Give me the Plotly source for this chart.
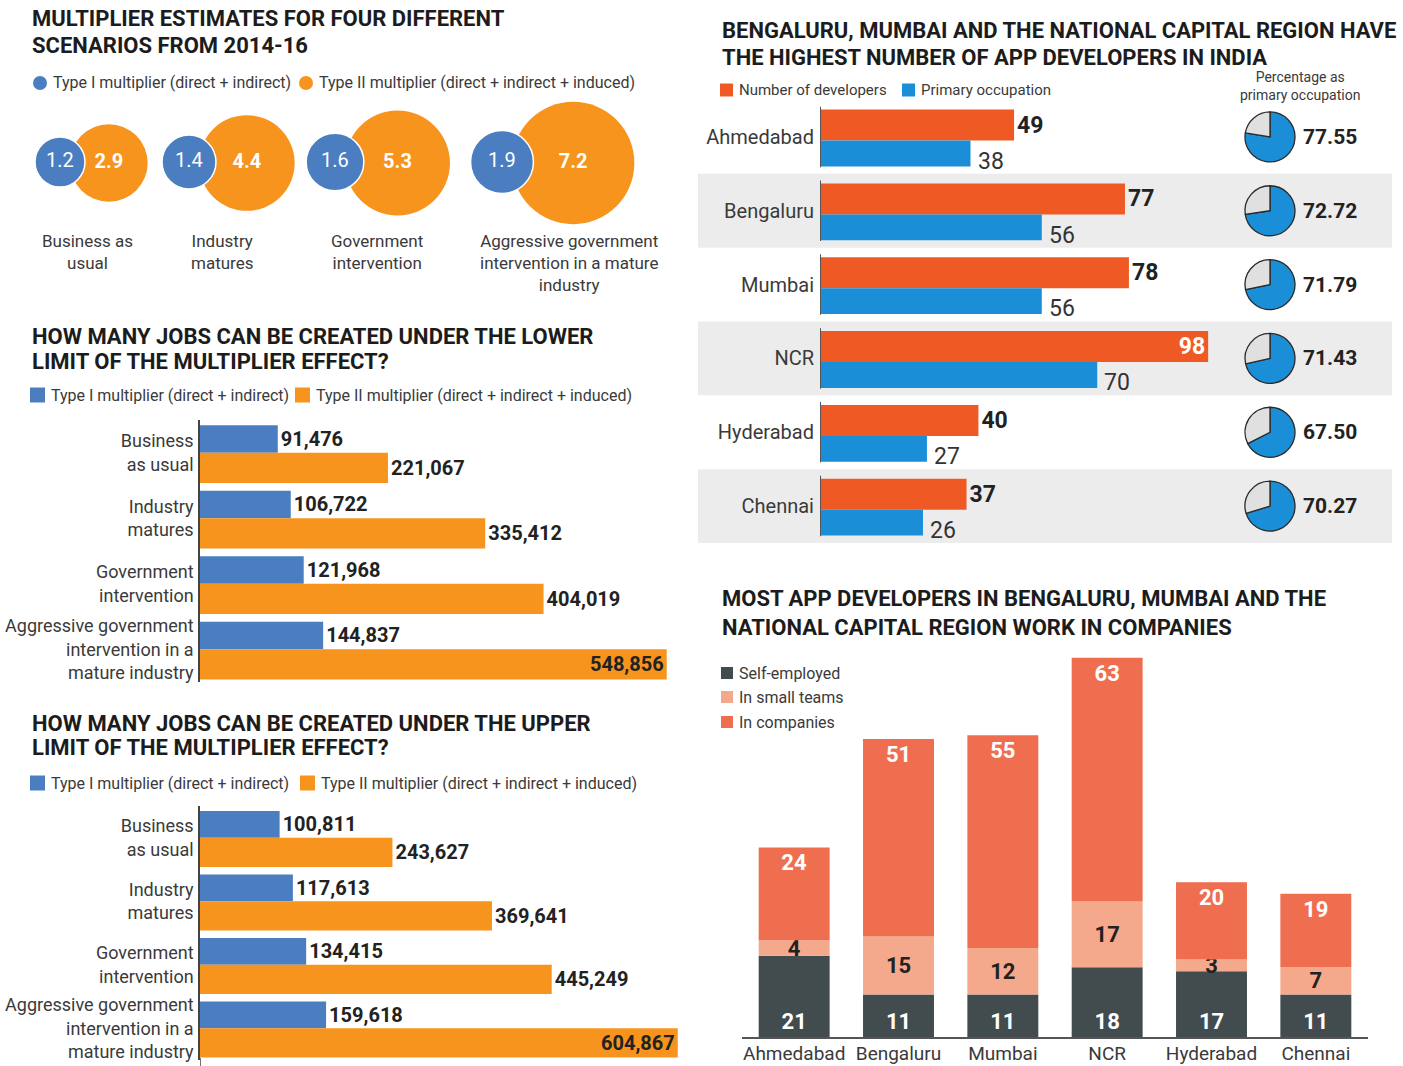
import math
import plotly.graph_objects as go

# ---------------------------------------------------------------- data
scenario_ticks = ["Business<br>as usual", "Industry<br>matures", "Government<br>intervention",
                  "Aggressive government<br>intervention in a<br>mature industry"]
bubble_names = ["Business as<br>usual", "Industry<br>matures", "Government<br>intervention",
                "Aggressive government<br>intervention in a mature<br>industry"]
type1_multiplier = [1.2, 1.4, 1.6, 1.9]
type2_multiplier = [2.9, 4.4, 5.3, 7.2]

jobs_lower_type1 = [91476, 106722, 121968, 144837]
jobs_lower_type2 = [221067, 335412, 404019, 548856]
jobs_upper_type1 = [100811, 117613, 134415, 159618]
jobs_upper_type2 = [243627, 369641, 445249, 604867]

cities = ["Ahmedabad", "Bengaluru", "Mumbai", "NCR", "Hyderabad", "Chennai"]
developers = [49, 77, 78, 98, 40, 37]
primary_occupation = [38, 56, 56, 70, 27, 26]
pct_primary = [77.55, 72.72, 71.79, 71.43, 67.50, 70.27]

self_employed = [21, 11, 11, 18, 17, 11]
small_teams = [4, 15, 12, 17, 3, 7]
in_companies = [24, 51, 55, 63, 20, 19]

# ---------------------------------------------------------------- styling
W, H = 1403, 1066
FONT = "Roboto, Liberation Sans, Arial, sans-serif"
TITLE_C = "#1c1c1c"
TEXT_C = "#3a3a3a"
VAL_C = "#222222"

M_BLUE, M_ORANGE = "#4a7ec1", "#f7941e"          # multiplier charts
D_ORANGE, D_BLUE = "#ef5a24", "#1a8fd8"          # developer counts
PIE_GREY, BAND = "#e0e0e0", "#ececec"
SELF_C, SMALL_C, COMP_C = "#424c4e", "#f5a98c", "#ef6e50"


def px(x):
    return x / W


def py(y):
    return 1 - y / H


fig = go.Figure()
ann = []
shapes = []


def title(lines, x, ys, size=22):
    for t, y in zip(lines, ys):
        ann.append(dict(text=f"<b>{t}</b>", x=px(x), y=py(y), xref="paper", yref="paper",
                        xanchor="left", yanchor="middle", showarrow=False,
                        font=dict(size=size, color=TITLE_C)))


def legend_item(x, y, color, label, size=16, shape="rect", box=14):
    shapes.append(dict(type=shape, xref="paper", yref="paper",
                       x0=px(x), x1=px(x + box), y0=py(y + box / 2), y1=py(y - box / 2),
                       fillcolor=color, line=dict(width=0)))
    ann.append(dict(text=label, x=px(x + box + 4), y=py(y), xref="paper", yref="paper",
                    xanchor="left", yanchor="middle", showarrow=False,
                    font=dict(size=size, color=TEXT_C)))


# ---------------------------------------------------------------- bubbles
BLUE_CX = [60, 189, 335, 502]     # blue bubble centres in the pixel-scaled axis
NAME_CX = [87, 222, 377, 569]
R_UNIT = 22.8                     # bubble radius per sqrt(multiplier)
sizeref = 1 / (2 * R_UNIT ** 2)
orange_cx = [bx + 10 + R_UNIT * math.sqrt(v) for bx, v in zip(BLUE_CX, type2_multiplier)]

fig.add_trace(go.Scatter(
    x=orange_cx, y=[163] * 4, mode="markers+text", xaxis="x", yaxis="y",
    marker=dict(size=type2_multiplier, sizemode="area", sizeref=sizeref, color=M_ORANGE,
                line=dict(width=0), opacity=1),
    text=[f"<b>{v:.1f}</b>" for v in type2_multiplier], textposition="middle center",
    textfont=dict(size=20, color="white"), hoverinfo="skip", cliponaxis=False))
fig.add_trace(go.Scatter(
    x=BLUE_CX, y=[162] * 4, mode="markers+text", xaxis="x", yaxis="y",
    marker=dict(size=type1_multiplier, sizemode="area", sizeref=sizeref, color=M_BLUE,
                line=dict(width=1.5, color="white"), opacity=1),
    text=[f"{v:.1f}" for v in type1_multiplier], textposition="middle center",
    textfont=dict(size=20, color="white"), hoverinfo="skip", cliponaxis=False))

for cx, name in zip(NAME_CX, bubble_names):
    ann.append(dict(text=name, x=cx, xref="x", y=py(229), yref="paper", xanchor="center",
                    yanchor="top", showarrow=False, font=dict(size=17, color=TEXT_C)))

title(["MULTIPLIER ESTIMATES FOR FOUR DIFFERENT", "SCENARIOS FROM 2014-16"], 30, [19, 46])
legend_item(33, 83, M_BLUE, "Type I multiplier (direct + indirect)", shape="circle")
legend_item(299, 83, M_ORANGE, "Type II multiplier (direct + indirect + induced)", shape="circle")


# ---------------------------------------------------------------- job bars
def job_bars(t1, t2, xa, ya):
    n = len(t1)
    fig.add_trace(go.Bar(
        y=list(range(n)), x=t1, orientation="h", xaxis=xa, yaxis=ya,
        offset=-0.42, width=0.42, marker=dict(color=M_BLUE, line=dict(width=0)),
        texttemplate="<b>%{x:,}</b>", textposition="outside", textangle=0,
        textfont=dict(size=20, color=VAL_C), cliponaxis=False, hoverinfo="skip"))
    fig.add_trace(go.Bar(
        y=list(range(n)), x=t2, orientation="h", xaxis=xa, yaxis=ya,
        offset=0, width=0.46, marker=dict(color=M_ORANGE, line=dict(width=0)),
        texttemplate="<b>%{x:,}</b>",
        textposition=["outside"] * (n - 1) + ["inside"], insidetextanchor="end",
        constraintext="none", textangle=0,
        textfont=dict(size=20, color=VAL_C), cliponaxis=False, hoverinfo="skip"))


job_bars(jobs_lower_type1, jobs_lower_type2, "x2", "y2")
job_bars(jobs_upper_type1, jobs_upper_type2, "x3", "y3")
# the upper chart's axis runs on to the foot of the page
shapes.append(dict(type="line", xref="x3", yref="paper", x0=0, x1=0, y0=0, y1=py(1058),
                   line=dict(color="#444444", width=1.5)))

title(["HOW MANY JOBS CAN BE CREATED UNDER THE LOWER", "LIMIT OF THE MULTIPLIER EFFECT?"], 30, [337, 361])
legend_item(30, 395, M_BLUE, "Type I multiplier (direct + indirect)", box=15)
legend_item(295, 395, M_ORANGE, "Type II multiplier (direct + indirect + induced)", box=15)

title(["HOW MANY JOBS CAN BE CREATED UNDER THE UPPER", "LIMIT OF THE MULTIPLIER EFFECT?"], 30, [723, 747])
legend_item(30, 783, M_BLUE, "Type I multiplier (direct + indirect)", box=15)
legend_item(300, 783, M_ORANGE, "Type II multiplier (direct + indirect + induced)", box=15)

# ---------------------------------------------------------------- developers by city
ROW_TOP, ROW_BOT = 100, 543
row_h = (ROW_BOT - ROW_TOP) / len(cities)

fig.add_trace(go.Bar(
    y=list(range(len(cities))), x=developers, orientation="h", xaxis="x4", yaxis="y4",
    offset=-0.37, width=0.42, marker=dict(color=D_ORANGE, line=dict(width=0)),
    texttemplate="<b>%{x}</b>",
    textposition=["inside" if v == max(developers) else "outside" for v in developers],
    insidetextanchor="end", constraintext="none", textangle=0,
    textfont=dict(size=23), insidetextfont=dict(size=23, color="white"),
    outsidetextfont=dict(size=23, color=VAL_C), cliponaxis=False, hoverinfo="skip"))
fig.add_trace(go.Bar(
    y=list(range(len(cities))), x=primary_occupation, orientation="h", xaxis="x4", yaxis="y4",
    offset=0.05, width=0.35, marker=dict(color=D_BLUE, line=dict(width=0)),
    hoverinfo="skip"))

for i, v in enumerate(primary_occupation):
    ann.append(dict(text=str(v), x=v, xref="x4", y=i + 0.33, yref="y4", xanchor="left",
                    yanchor="middle", xshift=5, showarrow=False,
                    font=dict(size=23, color="#333333")))
    # short axis stub per row
    shapes.append(dict(type="line", xref="x4", yref="y4", x0=0, x1=0, y0=i - 0.41, y1=i + 0.41,
                       line=dict(color="#555555", width=2), layer="above"))
    if i % 2 == 1:
        shapes.append(dict(type="rect", xref="paper", yref="y4", x0=px(698), x1=px(1392),
                           y0=i - 0.5, y1=i + 0.5, fillcolor=BAND, line=dict(width=0),
                           layer="below"))

for i, p in enumerate(pct_primary):
    cy = ROW_TOP + row_h * (i + 0.5)
    fig.add_trace(go.Pie(
        values=[p, 100 - p], sort=False, direction="clockwise", rotation=0,
        domain=dict(x=[px(1245), px(1295)], y=[py(cy + 25), py(cy - 25)]),
        marker=dict(colors=[D_BLUE, PIE_GREY], line=dict(color="#2a2a2a", width=1.3)),
        textinfo="none", hoverinfo="skip", showlegend=False))
    ann.append(dict(text=f"<b>{p:.2f}</b>", x=px(1301), xref="paper", y=i, yref="y4",
                    xanchor="left", yanchor="middle", showarrow=False,
                    font=dict(size=21, color=VAL_C)))

title(["BENGALURU, MUMBAI AND THE NATIONAL CAPITAL REGION HAVE",
       "THE HIGHEST NUMBER OF APP DEVELOPERS IN INDIA"], 720, [30, 58])
legend_item(720, 90, D_ORANGE, "Number of developers", size=15, box=13)
legend_item(902, 90, D_BLUE, "Primary occupation", size=15, box=13)
ann.append(dict(text="Percentage as<br>primary occupation", x=px(1300), y=py(86), xref="paper",
                yref="paper", xanchor="center", yanchor="middle", showarrow=False,
                font=dict(size=14, color=TEXT_C)))

# ---------------------------------------------------------------- work type (stacked)
base_small = list(self_employed)
base_comp = [a + b for a, b in zip(self_employed, small_teams)]
for vals, base, color, tcol, anchor in [
        (self_employed, None, SELF_C, "white", "start"),
        (small_teams, base_small, SMALL_C, VAL_C, "middle"),
        (in_companies, base_comp, COMP_C, "white", "end")]:
    fig.add_trace(go.Bar(
        x=cities, y=vals, base=base, xaxis="x5", yaxis="y5",
        offset=-0.34, width=0.68, marker=dict(color=color, line=dict(width=0)),
        text=vals, texttemplate="<b>%{text}</b>", textposition="inside",
        insidetextanchor=anchor, constraintext="none", textangle=0,
        textfont=dict(size=22, color=tcol), cliponaxis=False, hoverinfo="skip"))

title(["MOST APP DEVELOPERS IN BENGALURU, MUMBAI AND THE",
       "NATIONAL CAPITAL REGION WORK IN COMPANIES"], 720, [598, 627])
legend_item(721, 673, SELF_C, "Self-employed", box=12)
legend_item(721, 697, SMALL_C, "In small teams", box=12)
legend_item(721, 722, COMP_C, "In companies", box=12)

# ---------------------------------------------------------------- layout
hidden = dict(visible=False, showgrid=False, zeroline=False, fixedrange=True, automargin=False)


def cat_axis(domain_px, n, ticks, size, standoff):
    return dict(domain=[py(domain_px[1]), py(domain_px[0])], range=[n - 0.5, -0.5],
                tickvals=list(range(n)), ticktext=ticks, ticks="", showgrid=False,
                zeroline=False, automargin=False, ticklabeloverflow="allow",
                tickfont=dict(size=size, color=TEXT_C), ticklabelstandoff=standoff)


layout_axes = dict(
    xaxis=dict(domain=[0, px(700)], range=[0, 700], anchor="y", **hidden),
    yaxis=dict(domain=[py(235), py(95)], range=[235, 95], anchor="x", **hidden),
    xaxis2=dict(domain=[px(200), px(700)], range=[0, 588000], anchor="y2", **hidden),
    yaxis2=dict(anchor="x2", showline=True, linecolor="#444444", linewidth=1.5,
                **cat_axis((420, 682), 4, scenario_ticks, 18, 1)),
    xaxis3=dict(domain=[px(200), px(700)], range=[0, 633000], anchor="y3", **hidden),
    yaxis3=dict(anchor="x3", showline=True, linecolor="#444444", linewidth=1.5,
                **cat_axis((806, 1060), 4, scenario_ticks, 18, 1)),
    xaxis4=dict(domain=[px(820), 1], range=[0, 147.2], anchor="y4", **hidden),
    yaxis4=dict(anchor="x4", showline=False, **cat_axis((ROW_TOP, ROW_BOT), 6, cities, 20, 5)),
    xaxis5=dict(domain=[px(742), px(1368)], anchor="y5", type="category", showline=True,
                linecolor="#555555", linewidth=1.5, ticks="", showgrid=False, zeroline=False,
                automargin=False, ticklabeloverflow="allow", ticklabelstandoff=-2,
                tickfont=dict(size=19, color=TEXT_C)),
    yaxis5=dict(domain=[py(1037), py(640)], range=[0, 102.6], anchor="x5", **hidden),
)

fig.update_layout(
    width=W, height=H, margin=dict(l=0, r=0, t=0, b=0, autoexpand=False),
    paper_bgcolor="white", plot_bgcolor="rgba(0,0,0,0)",
    font=dict(family=FONT, color=TEXT_C), showlegend=False, barmode="group",
    annotations=ann, shapes=shapes, **layout_axes)

fig.write_html("out.html")
